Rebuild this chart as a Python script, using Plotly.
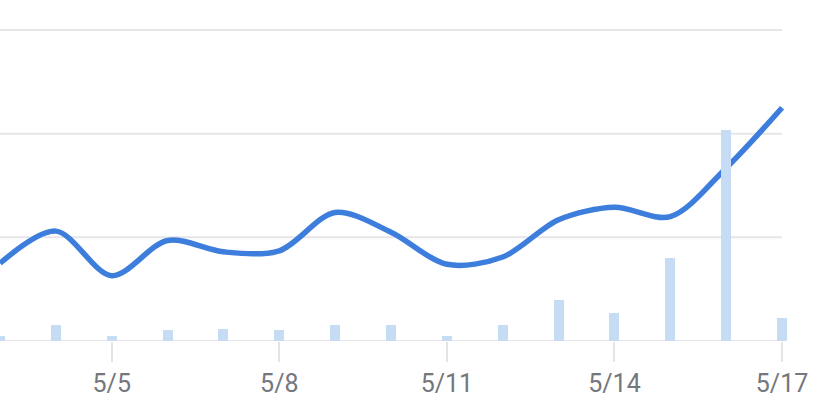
import plotly.graph_objects as go
import pandas as pd

dates = ["2024-05-03", "2024-05-04", "2024-05-05", "2024-05-06", "2024-05-07",
         "2024-05-08", "2024-05-09", "2024-05-10", "2024-05-11", "2024-05-12",
         "2024-05-13", "2024-05-14", "2024-05-15", "2024-05-16", "2024-05-17"]
line_values = [7.5, 10.6, 6.3, 9.7, 8.6, 8.7, 12.4, 10.5, 7.4, 8.1, 11.7, 12.9, 12.0, 16.7, 22.5]
bar_values = [1.2, 4.0, 1.1, 2.8, 3.0, 2.8, 4.0, 4.0, 1.1, 4.0, 10.1, 6.9, 20.2, 51.5, 5.7]
grid_values = [0, 10, 20, 30]
tick_dates = ["2024-05-05", "2024-05-08", "2024-05-11", "2024-05-14", "2024-05-17"]
tick_labels = ["5/5", "5/8", "5/11", "5/14", "5/17"]

W, H = 814, 402
px_per_day = 55.83
start = pd.Timestamp(dates[0])
end = pd.Timestamp(dates[-1]) + pd.Timedelta(hours=6)
plot_w = (end - start) / pd.Timedelta(days=1) * px_per_day
margin_r = W - plot_w

fig = go.Figure()
fig.add_trace(go.Bar(
    x=dates, y=bar_values, yaxis="y2",
    marker=dict(color="#c6dbf4", line=dict(width=0)),
    width=0.18 * 86400000,
    hoverinfo="skip",
))
fig.add_trace(go.Scatter(
    x=dates, y=line_values, mode="lines",
    line=dict(color="#3d7edc", width=5.5, shape="spline", smoothing=0.9),
    hoverinfo="skip",
))

for gv in grid_values:
    fig.add_shape(type="line", xref="x", yref="y", x0=dates[0], x1=dates[-1],
                  y0=gv, y1=gv, line=dict(color="#e6e6ea", width=2), layer="below")

fig.update_layout(
    width=W, height=H,
    margin=dict(l=0, r=margin_r, t=0, b=61),
    paper_bgcolor="white", plot_bgcolor="white",
    showlegend=False,
    bargap=0,
    xaxis=dict(
        type="date", range=[start, end],
        showgrid=False, zeroline=False, showline=False,
        tickvals=tick_dates, ticktext=tick_labels,
        ticks="outside", ticklen=20, tickwidth=2, tickcolor="#e3e3e8",
        tickfont=dict(family="Roboto", size=25, color="#74777d"),
    ),
    yaxis=dict(range=[0, 32.9], showgrid=False, zeroline=False,
               showticklabels=False, showline=False),
    yaxis2=dict(range=[0, 83.05], overlaying="y", showgrid=False, zeroline=False,
                showticklabels=False, showline=False),
)

fig.write_html("out.html", config={"displayModeBar": False},
               post_script="document.body.style.margin='0';document.body.style.overflow='hidden';")
